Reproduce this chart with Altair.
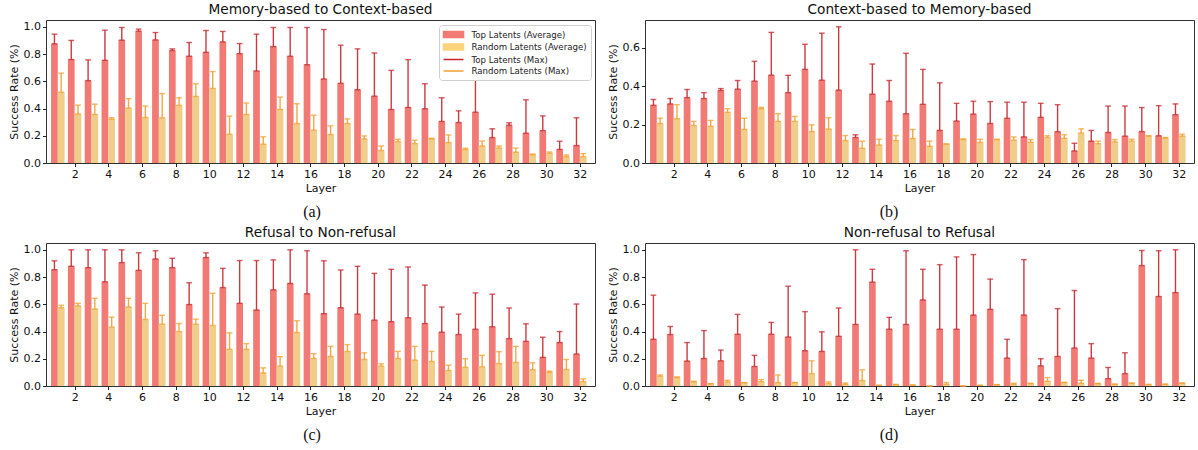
import altair as alt
import pandas as pd

layers = list(range(1, 33))

series_names = ["Top Latents (Average)", "Random Latents (Average)",
                "Top Latents (Max)", "Random Latents (Max)"]

titles = ["Memory-based to Context-based", "Context-based to Memory-based",
          "Refusal to Non-refusal", "Non-refusal to Refusal"]
captions = ["(a)", "(b)", "(c)", "(d)"]

# Panel (a)
top_avg_a = [0.875, 0.76, 0.605, 0.754, 0.902, 0.968, 0.904, 0.826, 0.784, 0.813, 0.889, 0.803, 0.676, 0.855, 0.784, 0.722,
             0.617, 0.585, 0.538, 0.491, 0.393, 0.408, 0.398, 0.305, 0.297, 0.373, 0.187, 0.278, 0.219, 0.238, 0.10, 0.128]
top_max_a = [0.946, 0.90, 0.757, 0.975, 0.995, 0.983, 0.958, 0.838, 0.885, 0.973, 0.966, 0.877, 0.946, 0.995, 0.995, 0.995,
             0.98, 0.865, 0.838, 0.808, 0.68, 0.759, 0.582, 0.479, 0.383, 0.658, 0.251, 0.295, 0.464, 0.346, 0.16, 0.332]
rand_avg_a = [0.52, 0.36, 0.356, 0.322, 0.403, 0.334, 0.332, 0.423, 0.489, 0.548, 0.211, 0.356, 0.138, 0.393, 0.29, 0.241,
              0.209, 0.29, 0.177, 0.091, 0.157, 0.143, 0.177, 0.15, 0.098, 0.125, 0.11, 0.079, 0.061, 0.071, 0.047, 0.047]
rand_max_a = [0.66, 0.425, 0.432, 0.332, 0.472, 0.418, 0.509, 0.479, 0.582, 0.671, 0.344, 0.44, 0.192, 0.484, 0.435, 0.351,
              0.273, 0.324, 0.199, 0.125, 0.174, 0.167, 0.182, 0.206, 0.108, 0.162, 0.125, 0.11, 0.066, 0.081, 0.059, 0.069]

# Panel (b)
top_avg_b = [0.301, 0.308, 0.341, 0.336, 0.378, 0.385, 0.427, 0.458, 0.367, 0.488, 0.432, 0.38, 0.133, 0.359, 0.322, 0.257,
             0.306, 0.17, 0.219, 0.255, 0.206, 0.233, 0.136, 0.238, 0.163, 0.063, 0.114, 0.159, 0.14, 0.164, 0.142, 0.252]
top_max_b = [0.331, 0.336, 0.383, 0.367, 0.388, 0.43, 0.53, 0.681, 0.457, 0.619, 0.677, 0.71, 0.147, 0.516, 0.43, 0.572,
             0.488, 0.418, 0.311, 0.322, 0.32, 0.317, 0.317, 0.311, 0.304, 0.103, 0.17, 0.297, 0.297, 0.289, 0.299, 0.308]
rand_avg_b = [0.206, 0.231, 0.196, 0.191, 0.264, 0.175, 0.283, 0.217, 0.217, 0.164, 0.177, 0.117, 0.077, 0.094, 0.117, 0.128,
              0.087, 0.098, 0.122, 0.107, 0.122, 0.119, 0.108, 0.133, 0.129, 0.156, 0.101, 0.11, 0.114, 0.14, 0.129, 0.14]
rand_max_b = [0.234, 0.304, 0.217, 0.222, 0.283, 0.233, 0.29, 0.257, 0.243, 0.199, 0.236, 0.143, 0.114, 0.124, 0.143, 0.175,
              0.114, 0.1, 0.126, 0.124, 0.124, 0.136, 0.122, 0.142, 0.147, 0.178, 0.114, 0.122, 0.124, 0.143, 0.133, 0.15]

# Panel (c)
top_avg_c = [0.854, 0.879, 0.869, 0.765, 0.906, 0.849, 0.933, 0.869, 0.598, 0.943, 0.723, 0.607, 0.558, 0.706, 0.753, 0.677,
             0.531, 0.575, 0.528, 0.484, 0.472, 0.501, 0.459, 0.395, 0.378, 0.417, 0.435, 0.348, 0.328, 0.21, 0.319, 0.235]
top_max_c = [0.919, 1.0, 1.0, 1.0, 1.0, 0.978, 0.993, 0.938, 0.758, 0.978, 0.864, 0.921, 0.921, 0.926, 1.0, 0.993,
             0.919, 0.852, 0.879, 0.827, 0.857, 0.874, 0.741, 0.58, 0.528, 0.684, 0.674, 0.573, 0.457, 0.358, 0.4, 0.602]
rand_avg_c = [0.575, 0.588, 0.565, 0.432, 0.58, 0.489, 0.454, 0.4, 0.454, 0.444, 0.269, 0.269, 0.096, 0.146, 0.393, 0.202,
              0.217, 0.254, 0.195, 0.146, 0.202, 0.19, 0.18, 0.114, 0.138, 0.141, 0.165, 0.173, 0.119, 0.101, 0.121, 0.032]
rand_max_c = [0.593, 0.607, 0.644, 0.506, 0.644, 0.607, 0.519, 0.459, 0.491, 0.681, 0.39, 0.311, 0.133, 0.215, 0.479, 0.237,
              0.291, 0.304, 0.244, 0.163, 0.254, 0.291, 0.254, 0.153, 0.2, 0.225, 0.252, 0.291, 0.17, 0.109, 0.195, 0.052]

# Panel (d)
top_avg_d = [0.343, 0.378, 0.183, 0.202, 0.185, 0.38, 0.143, 0.38, 0.36, 0.259, 0.254, 0.365, 0.452, 0.763, 0.417, 0.452,
             0.632, 0.417, 0.417, 0.521, 0.563, 0.205, 0.521, 0.148, 0.217, 0.279, 0.205, 0.054, 0.091, 0.884, 0.657, 0.686]
top_max_d = [0.667, 0.437, 0.319, 0.407, 0.264, 0.526, 0.225, 0.467, 0.733, 0.546, 0.398, 0.573, 1.0, 0.857, 0.504, 0.993,
             0.857, 0.891, 0.948, 0.965, 0.785, 0.343, 0.928, 0.2, 0.568, 0.701, 0.311, 0.136, 0.244, 0.995, 0.993, 1.0]
rand_avg_d = [0.072, 0.062, 0.03, 0.017, 0.03, 0.025, 0.032, 0.025, 0.025, 0.091, 0.017, 0.012, 0.04, 0.005, 0.01, 0.007,
              0.0, 0.012, 0.0, 0.005, 0.01, 0.012, 0.017, 0.035, 0.025, 0.02, 0.017, 0.012, 0.02, 0.01, 0.012, 0.02]
rand_max_d = [0.081, 0.067, 0.035, 0.017, 0.042, 0.025, 0.047, 0.081, 0.025, 0.185, 0.03, 0.022, 0.119, 0.005, 0.012, 0.007,
              0.0, 0.025, 0.0, 0.005, 0.01, 0.02, 0.02, 0.062, 0.027, 0.042, 0.019, 0.014, 0.022, 0.012, 0.014, 0.022]

x_ticks = list(range(2, 33, 2))
y_ticks_full = [0.0, 0.2, 0.4, 0.6, 0.8, 1.0]
y_ticks_b = [0.0, 0.2, 0.4, 0.6]

TOP_FILL = "#F27A75"
RAND_FILL = "#F0CE8A"
LEG_RAND = "#FDD37C"
TOP_ERR = "#C4262C"
RAND_ERR = "#F0A030"

W, H = 549, 143
FONT = "DejaVu Sans"


def make_panel(title, caption, cap_x, top_avg, top_max, rand_avg, rand_max, ymax, yticks, with_legend=False):
    df = pd.DataFrame({"layer": layers, "top_avg": top_avg, "top_max": top_max,
                       "rand_avg": rand_avg, "rand_max": rand_max})
    base = alt.Chart(df).transform_calculate(
        zero="0",
        t0="datum.layer - 0.4", t1="datum.layer",
        r0="datum.layer", r1="datum.layer + 0.4",
        tc="datum.layer - 0.2", rc="datum.layer + 0.2",
        tk0="datum.layer - 0.37", tk1="datum.layer - 0.03",
        rk0="datum.layer + 0.03", rk1="datum.layer + 0.37",
    )
    xs = alt.Scale(domain=[0.3, 32.9], nice=False, zero=False)
    ys = alt.Scale(domain=[0, ymax], nice=False, zero=True)
    xaxis = alt.Axis(values=x_ticks, format="d", title="Layer", grid=False, domain=False,
                     tickSize=3.5, tickColor="#222", labelPadding=2, labelFontSize=11,
                     labelColor="#111", titleFontSize=11, titleFontWeight="normal",
                     titleColor="#111", titlePadding=3, labelFont=FONT, titleFont=FONT)
    yaxis = alt.Axis(values=yticks, format=".1f", title="Success Rate (%)", grid=False, domain=False,
                     tickSize=3.5, tickColor="#222", labelPadding=2, labelFontSize=11,
                     labelColor="#111", titleFontSize=11, titleFontWeight="normal",
                     titleColor="#111", titlePadding=4, labelFont=FONT, titleFont=FONT)

    def X(f):
        return alt.X(f + ":Q", scale=xs, axis=xaxis)

    def Y(f):
        return alt.Y(f + ":Q", scale=ys, axis=yaxis)

    top_bar = base.mark_rect(color=TOP_FILL).encode(x=X("t0"), x2=alt.X2("t1"), y=Y("top_avg"), y2=alt.Y2("zero"))
    rand_bar = base.mark_rect(color=RAND_FILL).encode(x=X("r0"), x2=alt.X2("r1"), y=Y("rand_avg"), y2=alt.Y2("zero"))
    top_err = base.mark_rule(color=TOP_ERR, strokeWidth=1.4, opacity=0.9).encode(
        x=X("tc"), y=Y("top_avg"), y2=alt.Y2("top_max"))
    rand_err = base.mark_rule(color=RAND_ERR, strokeWidth=1.4, opacity=0.9).encode(
        x=X("rc"), y=Y("rand_avg"), y2=alt.Y2("rand_max"))
    top_cap_hi = base.mark_rule(color=TOP_ERR, strokeWidth=1.4, opacity=0.75).encode(
        x=X("tk0"), x2=alt.X2("tk1"), y=Y("top_max"))
    top_cap_lo = base.mark_rule(color=TOP_ERR, strokeWidth=1.4, opacity=0.75).encode(
        x=X("tk0"), x2=alt.X2("tk1"), y=Y("top_avg"))
    rand_cap_hi = base.mark_rule(color=RAND_ERR, strokeWidth=1.4, opacity=0.75).encode(
        x=X("rk0"), x2=alt.X2("rk1"), y=Y("rand_max"))
    rand_cap_lo = base.mark_rule(color=RAND_ERR, strokeWidth=1.4, opacity=0.75).encode(
        x=X("rk0"), x2=alt.X2("rk1"), y=Y("rand_avg"))

    cap = alt.Chart(pd.DataFrame({"c": [caption]})).mark_text(
        font="Liberation Serif", fontSize=16, color="#111", baseline="middle", align="center"
    ).encode(x=alt.value(cap_x), y=alt.value(H + 49), text="c:N")

    parts = [top_bar, rand_bar, top_err, rand_err, top_cap_hi, top_cap_lo, rand_cap_hi, rand_cap_lo, cap]

    if with_legend:
        rect_path = "M-2,-0.6L2,-0.6L2,0.6L-2,0.6Z"
        line_path = "M-2,0L2,0"
        leg = alt.Legend(title=None, orient="top-right", offset=4.5, padding=3.5,
                         fillColor="white", strokeColor="#d0d0d0", cornerRadius=3,
                         labelFontSize=8.6, labelFont=FONT, labelColor="#222", labelOffset=12,
                         symbolSize=100, symbolOffset=5, symbolStrokeWidth=1.5, symbolOpacity=1,
                         rowPadding=0.5)
        ldf = pd.DataFrame({"series": series_names})
        legend_layer = alt.Chart(ldf).mark_point(opacity=0, filled=True).encode(
            x=alt.value(10), y=alt.value(10),
            fill=alt.Fill("series:N", scale=alt.Scale(domain=series_names,
                                                       range=[TOP_FILL, LEG_RAND, "transparent", "transparent"]),
                          legend=leg),
            stroke=alt.Stroke("series:N", scale=alt.Scale(domain=series_names,
                                                           range=[TOP_FILL, LEG_RAND, TOP_ERR, RAND_ERR]),
                              legend=leg),
            shape=alt.Shape("series:N", scale=alt.Scale(domain=series_names,
                                                         range=[rect_path, rect_path, line_path, line_path]),
                            legend=leg),
        )
        parts.append(legend_layer)

    return alt.layer(*parts).properties(
        width=W, height=H,
        title=alt.TitleParams(title, fontSize=13.7, font=FONT, fontWeight="normal", color="#111",
                              anchor="middle", offset=3),
    )


pa = make_panel(titles[0], captions[0], 266, top_avg_a, top_max_a, rand_avg_a, rand_max_a, 1.05, y_ticks_full, True)
pb = make_panel(titles[1], captions[1], 244, top_avg_b, top_max_b, rand_avg_b, rand_max_b, 0.7455, y_ticks_b)
pc = make_panel(titles[2], captions[2], 266, top_avg_c, top_max_c, rand_avg_c, rand_max_c, 1.05, y_ticks_full)
pd_ = make_panel(titles[3], captions[3], 244, top_avg_d, top_max_d, rand_avg_d, rand_max_d, 1.05, y_ticks_full)

res = dict(fill="independent", stroke="independent", shape="independent")
row1 = alt.hconcat(pa, pb, spacing=10).resolve_scale(**res).resolve_legend(**res)
row2 = alt.hconcat(pc, pd_, spacing=10).resolve_scale(**res).resolve_legend(**res)

chart = alt.vconcat(row1, row2, spacing=4).resolve_scale(**res).resolve_legend(**res).properties(
    padding={"left": 7, "top": 2, "right": 0, "bottom": 0},
    background="white",
).configure_view(stroke="#333", strokeWidth=1)

chart.save("out.html", embed_options={"renderer": "svg", "actions": False})
